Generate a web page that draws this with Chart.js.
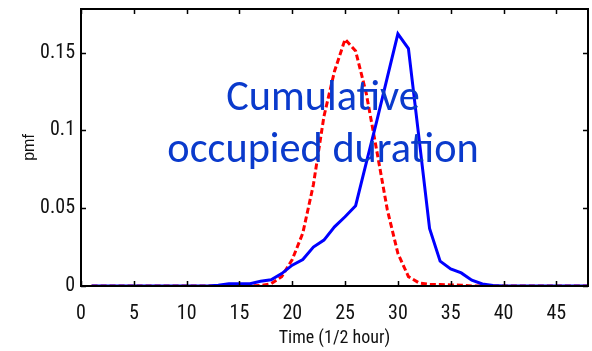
<!DOCTYPE html>
<html>
<head>
<meta charset="utf-8">
<script src="https://cdn.jsdelivr.net/npm/chart.js@4.4.0/dist/chart.umd.min.js"></script>
<style>
  html, body { margin: 0; padding: 0; background: #fff; }
  #wrap { width: 592px; height: 351px; }
</style>
</head>
<body>
<div id="wrap"><canvas id="myChart"></canvas></div>
<script>
// half-hour slots 1..48
const halfHours = [1, 2, 3, 4, 5, 6, 7, 8, 9, 10, 11, 12, 13, 14, 15, 16, 17, 18, 19, 20, 21, 22, 23, 24,
                   25, 26, 27, 28, 29, 30, 31, 32, 33, 34, 35, 36, 37, 38, 39, 40, 41, 42, 43, 44, 45, 46, 47, 48];

// solid blue curve
const pmfBlue = [0, 0, 0, 0, 0, 0, 0, 0, 0, 0, 0, 0,
                 0.0005, 0.0015, 0.0015, 0.0015, 0.003, 0.004, 0.008, 0.0134, 0.017, 0.025, 0.0295, 0.038,
                 0.0445, 0.0516, 0.079, 0.106, 0.134, 0.162, 0.1525, 0.095, 0.037, 0.016, 0.011, 0.0084,
                 0.0037, 0.0013, 0.0003, 0, 0, 0, 0, 0, 0, 0, 0, 0];

// dashed red curve
const pmfRed = [0, 0, 0, 0, 0, 0, 0, 0, 0, 0, 0, 0,
                0, 0, 0, 0, 0.0003, 0.0015, 0.006, 0.017, 0.034, 0.065, 0.109, 0.138,
                0.1585, 0.151, 0.124, 0.087, 0.049, 0.021, 0.006, 0.002, 0.001, 0.001, 0.0007, 0.0005,
                0, 0, 0, 0, 0, 0, 0, 0, 0, 0, 0, 0];

const xTicks = [0, 5, 10, 15, 20, 25, 30, 35, 40, 45];
const yTicks = [0, 0.05, 0.1, 0.15];
const yTickLabels = ['0', '0.05', '0.1', '0.15'];
const noteLines = ['Cumulative', 'occupied duration'];

const narrow = "'Roboto Condensed', 'Liberation Sans', sans-serif";
const tickFont = { family: narrow, size: 20 };

// box around the plot + inward tick marks on all 4 sides
const boxPlugin = {
    id: 'box',
    afterDraw(chart) {
        const c = chart.ctx, a = chart.chartArea;
        const xs = chart.scales.x, ys = chart.scales.y;
        c.save();
        c.strokeStyle = '#000';
        c.lineWidth = 1.5;
        xTicks.forEach(function(v) {
            const px = Math.round(xs.getPixelForValue(v)) + 0.5;
            c.beginPath();
            c.moveTo(px, a.bottom); c.lineTo(px, a.bottom - 5);
            c.moveTo(px, a.top); c.lineTo(px, a.top + 5);
            c.stroke();
        });
        yTicks.forEach(function(v) {
            const py = Math.round(ys.getPixelForValue(v)) + 0.5;
            c.beginPath();
            c.moveTo(a.left, py); c.lineTo(a.left + 5, py);
            c.moveTo(a.right, py); c.lineTo(a.right - 5, py);
            c.stroke();
        });
        c.lineWidth = 2;
        c.strokeRect(a.left, a.top, a.right - a.left, a.bottom - a.top);
        c.restore();
    }
};

// the blue note in the middle of the plot
const notePlugin = {
    id: 'note',
    afterDatasetsDraw(chart) {
        const c = chart.ctx;
        c.save();
        c.fillStyle = '#0a3acc';
        c.textAlign = 'center';
        c.textBaseline = 'alphabetic';
        c.font = "36px Carlito, 'Open Sans', sans-serif";
        const w = c.measureText(noteLines[1]).width;
        const size = 36 * 311 / w;
        c.font = size.toFixed(1) + "px Carlito, 'Open Sans', sans-serif";
        c.fillText(noteLines[0], 323, 110);
        c.fillText(noteLines[1], 323, 162);
        c.restore();
    }
};

const ctx = document.getElementById('myChart');

const myChart = new Chart(ctx, {
    type: 'line',
    data: {
        datasets: [{
            label: 'blue',
            data: halfHours.map(function(t, i) { return { x: t, y: pmfBlue[i] }; }),
            borderColor: '#0000ff',
            borderWidth: 3,
            pointRadius: 0,
            tension: 0,
            fill: false
        }, {
            label: 'red',
            data: halfHours.map(function(t, i) { return { x: t, y: pmfRed[i] }; }),
            borderColor: '#ff0000',
            borderWidth: 3,
            borderDash: [6, 3],
            pointRadius: 0,
            tension: 0,
            fill: false
        }]
    },
    options: {
        responsive: true,
        maintainAspectRatio: false,
        animation: false,
        layout: { padding: { left: 0, right: 4, top: 9, bottom: 0 } },
        plugins: {
            legend: { display: false },
            tooltip: { enabled: false }
        },
        scales: {
            x: {
                type: 'linear',
                min: 0,
                max: 48,
                grid: { display: false, drawTicks: false },
                border: { display: false },
                afterBuildTicks: function(scale) {
                    scale.ticks = xTicks.map(function(v) { return { value: v }; });
                },
                afterFit: function(scale) {
                    scale.height = 65;
                    scale.paddingLeft = 0;
                    scale.paddingRight = 0;
                },
                ticks: {
                    color: '#111',
                    font: tickFont,
                    padding: 16,
                    maxRotation: 0,
                    autoSkip: false
                },
                title: {
                    display: true,
                    text: 'Time (1/2 hour)',
                    color: '#111',
                    font: { family: narrow, size: 18 },
                    padding: { top: 0, bottom: 2 }
                }
            },
            y: {
                min: 0,
                max: 0.178,
                grid: { display: false, drawTicks: false },
                border: { display: false },
                afterBuildTicks: function(scale) {
                    scale.ticks = yTicks.map(function(v) { return { value: v }; });
                },
                afterFit: function(scale) {
                    scale.width = 81;
                    scale.paddingTop = 0;
                    scale.paddingBottom = 0;
                },
                ticks: {
                    color: '#111',
                    font: tickFont,
                    padding: 6,
                    autoSkip: false,
                    callback: function(v, i) { return yTickLabels[i]; }
                },
                title: {
                    display: true,
                    text: 'pmf',
                    color: '#111',
                    font: { family: "'Liberation Sans', Arial, sans-serif", size: 16 },
                    padding: { top: 20, bottom: 0 }
                }
            }
        }
    },
    plugins: [boxPlugin, notePlugin]
});
</script>
</body>
</html>
